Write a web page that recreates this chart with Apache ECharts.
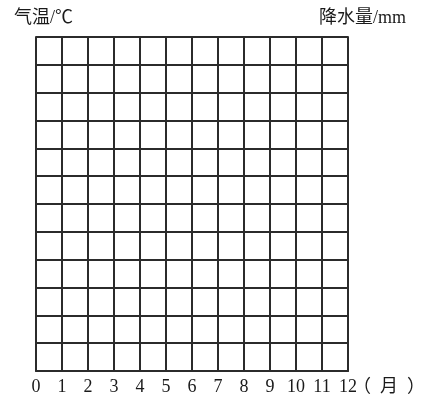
<!DOCTYPE html>
<html>
<head>
<meta charset="UTF-8">
<title>气温降水图</title>
<style>
    html,body{padding:0; margin:0; background:#fff;}
    #main{width:424px; height:397px;}
</style>
<script src="https://cdn.jsdelivr.net/npm/echarts@6/dist/echarts.min.js"></script>
</head>
<body>
<div id="main"></div>
<script type="text/javascript">
    // 月份刻度 (x 轴)
    var months = [0, 1, 2, 3, 4, 5, 6, 7, 8, 9, 10, 11, 12];
    // 纵向格子刻度（空白坐标纸，不标数字）
    var rows = [0, 1, 2, 3, 4, 5, 6, 7, 8, 9, 10, 11, 12];
    // 气温、降水量（图中为空白，待填写）
    var temperature = [];
    var rainfall = [];

    var serif = '"Liberation Serif", "Noto Sans CJK SC", serif';
    var lineStyle = {color: '#2b2b2b', width: 2};

    var myChart = echarts.init(document.getElementById('main'));
    var option = {
        animation: false,
        title: [
            {text: '气温/℃', left: 14, top: 9, padding: 0,
             textStyle: {fontFamily: serif, fontSize: 18, fontWeight: 'normal', color: '#1a1a1a'}},
            {text: '降水量/mm', right: 18, top: 9, padding: 0,
             textStyle: {fontFamily: serif, fontSize: 18, fontWeight: 'normal', color: '#1a1a1a'}}
        ],
        grid: {left: 36, right: 76, top: 37, bottom: 26, outerBoundsMode: 'none', containLabel: false},
        xAxis: {
            type: 'value',
            min: months[0],
            max: months[months.length - 1],
            interval: 1,
            name: '（  月  ）',
            nameLocation: 'end',
            nameGap: 41,
            nameMoveOverlap: false,
            nameTextStyle: {fontFamily: serif, fontSize: 18, color: '#1a1a1a', align: 'center',
                            verticalAlign: 'top', padding: [7, 0, 0, 0]},
            axisLine: {show: true, lineStyle: lineStyle},
            axisTick: {show: false},
            axisLabel: {fontFamily: serif, fontSize: 18, color: '#1a1a1a', margin: 7,
                        formatter: function (v) { return months.indexOf(v) >= 0 ? String(v) : ''; }},
            splitLine: {show: true, lineStyle: lineStyle}
        },
        yAxis: [
            {
                type: 'value',
                min: rows[0],
                max: rows[rows.length - 1],
                interval: 1,
                axisLine: {show: true, lineStyle: lineStyle},
                axisTick: {show: false},
                axisLabel: {show: false},
                splitLine: {show: true, lineStyle: lineStyle}
            },
            {
                type: 'value',
                min: rows[0],
                max: rows[rows.length - 1],
                interval: 1,
                position: 'right',
                axisLine: {show: true, lineStyle: lineStyle},
                axisTick: {show: false},
                axisLabel: {show: false},
                splitLine: {show: false}
            }
        ],
        series: [
            {name: '气温', type: 'line', yAxisIndex: 0, data: temperature},
            {name: '降水量', type: 'bar', yAxisIndex: 1, data: rainfall}
        ]
    };
    myChart.setOption(option);
</script>
</body>
</html>
